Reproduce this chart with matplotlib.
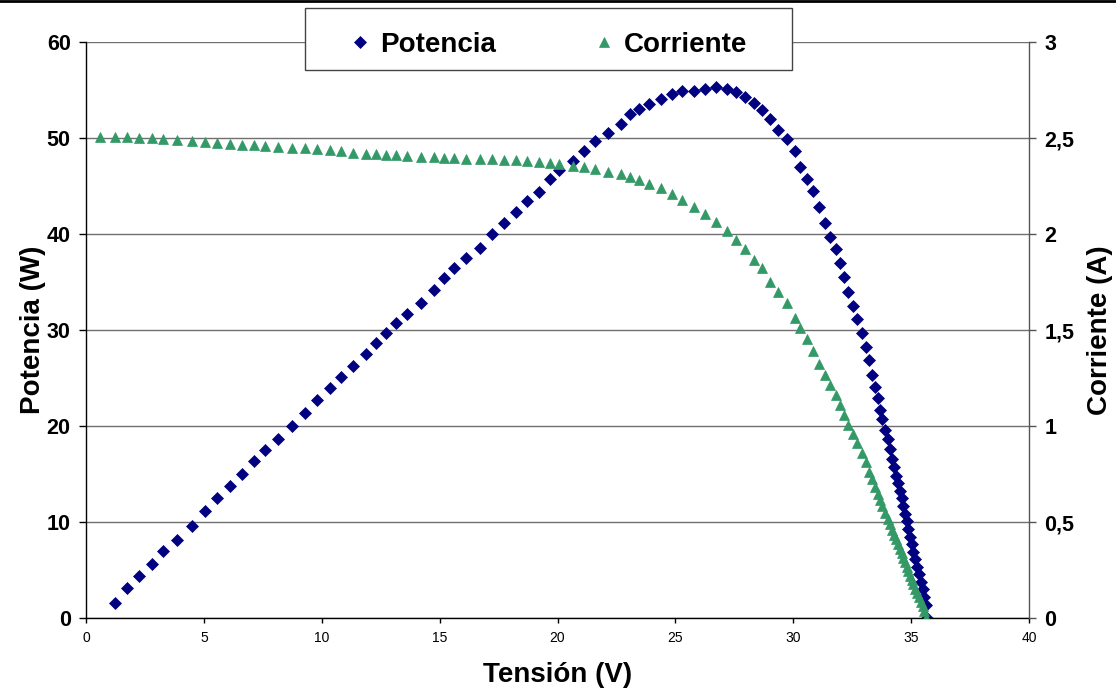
import numpy as np
import matplotlib
matplotlib.use("Agg")
import matplotlib.pyplot as plt
from matplotlib.lines import Line2D
from matplotlib.patches import Rectangle
from matplotlib.ticker import FuncFormatter

plt.rcParams['font.family'] = ['Liberation Sans', 'DejaVu Sans']

nan = np.nan

# Tensión (V) - shared x values
tension = [0.59, 1.24, 1.75, 2.26, 2.80, 3.28, 3.86, 4.48, 5.05, 5.54, 6.09, 6.62, 7.13, 7.59,
           8.16, 8.72, 9.27, 9.79, 10.33,
           10.83, 11.34, 11.86, 12.31, 12.74, 13.16, 13.62, 14.21, 14.75, 15.19, 15.62, 16.13,
           16.72, 17.22, 17.72, 18.25, 18.69, 19.23, 19.70, 20.06,
           20.66, 21.12, 21.60, 22.14, 22.69, 23.09, 23.47, 23.90, 24.39, 24.87, 25.27, 25.77,
           26.27, 26.71, 27.17, 27.58, 27.95, 28.32, 28.66, 29.00, 29.37, 29.73, 30.06, 30.29,
           30.58, 30.82, 31.08, 31.34, 31.57, 31.82, 31.98, 32.17, 32.33, 32.53, 32.71, 32.92,
           33.08, 33.22, 33.36, 33.46, 33.58,
           33.68, 33.78, 33.88, 34.00, 34.10, 34.17, 34.26, 34.34, 34.43, 34.51, 34.60, 34.66,
           34.75, 34.81, 34.88, 34.95, 35.02, 35.09, 35.17, 35.26, 35.33, 35.42, 35.49, 35.56,
           35.63, 35.69]

# Potencia (W)
potencia = [nan,
            1.53, 3.09, 4.38, 5.66, 6.94, 8.13, 9.61, 11.15, 12.53, 13.72, 15.00, 16.35, 17.50,
            18.65, 20.03, 21.38, 22.71, 23.96,
            25.10, 26.28, 27.53, 28.65, 29.72, 30.73, 31.70, 32.78, 34.17, 35.45, 36.43, 37.47,
            38.57, 39.97, 41.15, 42.26, 43.44, 44.41, 45.70, 46.67,
            47.64, 48.68, 49.65, 50.49, 51.46, 52.47, 53.02, 53.54, 54.03, 54.58, 54.86, 54.93,
            55.10, 55.28, 55.10, 54.82, 54.30, 53.65, 52.88, 51.95, 50.83, 49.86, 48.68, 47.01,
            45.76, 44.51, 42.84, 41.18, 39.72, 38.44, 36.95, 35.49, 33.93, 32.53, 31.15, 29.72,
            28.23, 26.88, 25.35, 24.10, 22.89,
            21.70, 20.70, 19.61, 18.61, 17.57, 16.59, 15.70, 14.82, 14.06, 13.23, 12.47, 11.70,
            10.86, 10.07, 9.27, 8.47, 7.71, 6.91, 6.15, 5.35, 4.55, 3.79, 2.99, 2.19, 1.33, 0.00]

# Corriente (A)
corriente = [2.504, 2.507, 2.504, 2.498, 2.498, 2.493, 2.490, 2.484, 2.479, 2.472, 2.469, 2.465,
             2.462, 2.458, 2.455, 2.448, 2.446, 2.441, 2.436, 2.432, 2.423, 2.418, 2.415,
             2.412, 2.409, 2.406, 2.403, 2.400, 2.398, 2.396, 2.393, 2.391, 2.389, 2.388, 2.385,
             2.381, 2.377, 2.371, 2.363,
             2.356, 2.347, 2.337, 2.324, 2.311, 2.298, 2.281, 2.260, 2.238, 2.208, 2.177, 2.142,
             2.104, 2.063, 2.016, 1.969, 1.920, 1.865, 1.821,
             1.752, 1.696, 1.639, 1.564, 1.509, 1.455, 1.391, 1.325, 1.264, 1.214, 1.160,
             1.110, 1.055, 1.006, 0.958, 0.909, 0.858, 0.813, 0.763, 0.722, 0.684, 0.646, 0.615,
             0.581, 0.549, 0.517, 0.487, 0.459, 0.433, 0.409, 0.384, 0.361, 0.338, 0.313, 0.290,
             0.266, 0.243, 0.221, 0.197, 0.175, 0.152, 0.129, 0.107, 0.084, 0.062, 0.037, 0.000,
             nan]

x_ticks = [0, 5, 10, 15, 20, 25, 30, 35, 40]
y_left_ticks = [0, 10, 20, 30, 40, 50, 60]
y_right_ticks = [0, 0.5, 1, 1.5, 2, 2.5, 3]

W, H = 1116, 691
fig = plt.figure(figsize=(W / 100, H / 100), dpi=100)
ax = fig.add_axes([86 / W, 1 - 618 / H, (1029 - 86) / W, (618 - 42) / H])
ax2 = ax.twinx()

navy = '#000080'
green = '#339966'
grid_c = '#707070'

d_style = dict(linestyle='none', marker='D', ms=6.3, color=navy, markeredgewidth=0.5,
               markeredgecolor=navy)
t_style = dict(linestyle='none', marker='^', ms=7.8, color=green, markeredgewidth=0.5,
               markeredgecolor=green)

ax.plot(tension, potencia, label='Potencia', **d_style)
ax2.plot(tension, corriente, label='Corriente', **t_style)

ax.set_xlim(0, 40)
ax.set_ylim(0, 60)
ax2.set_ylim(0, 3)
ax.set_xticks(x_ticks)
ax.set_yticks(y_left_ticks)
ax2.set_yticks(y_right_ticks)
ax2.yaxis.set_major_formatter(FuncFormatter(lambda v, p: ('%g' % v).replace('.', ',')))

ax.yaxis.grid(True, color=grid_c, linewidth=1.0)
ax.set_axisbelow(True)

for s in ['top', 'right']:
    ax.spines[s].set_visible(False)
for s in ['top', 'left', 'bottom']:
    ax2.spines[s].set_visible(False)
ax.spines['left'].set_color('black')
ax.spines['bottom'].set_color('black')
ax.spines['left'].set_linewidth(1.0)
ax.spines['bottom'].set_linewidth(1.0)
ax2.spines['right'].set_color('#555555')
ax2.spines['right'].set_linewidth(1.0)

ax.tick_params(axis='y', direction='out', length=5, width=1, pad=6, labelsize=15.5,
               colors='black')
ax.tick_params(axis='x', direction='out', length=3.5, width=1, pad=6, labelsize=10)
ax2.tick_params(axis='y', direction='out', length=5, width=1, pad=6, labelsize=15.5,
                color='#555555', labelcolor='black')
for lbl in ax.get_yticklabels() + ax2.get_yticklabels():
    lbl.set_fontweight('bold')

ax.set_xlabel('Tensión (V)', fontsize=20, fontweight='bold')
ax.set_ylabel('Potencia (W)', fontsize=20, fontweight='bold')
ax2.set_ylabel('Corriente (A)', fontsize=20, fontweight='bold')
ax.xaxis.set_label_coords(0.5, (618 - 662) / 576)
ax.yaxis.set_label_coords((46 - 86) / 943, 0.5)
ax2.yaxis.set_label_coords((1087 - 86) / 943, 0.5)

# legend frame + legend
frame = Rectangle((305 / W, 1 - 70 / H), (792 - 305) / W, (70 - 8) / H,
                  transform=fig.transFigure, facecolor='white', edgecolor='#444444',
                  linewidth=1.0, zorder=3)
fig.patches.append(frame)
handles = [Line2D([], [], **d_style), Line2D([], [], **t_style)]
leg = fig.legend(handles, ['Potencia', 'Corriente'], loc='center', ncol=2, frameon=False,
                 bbox_to_anchor=(548 / W, 1 - 45 / H), handlelength=0.8, handletextpad=0.3,
                 columnspacing=3.5, prop={'weight': 'bold', 'size': 20})
leg.set_zorder(5)

# top black border line
fig.add_artist(Line2D([0, 1], [1 - 1.3 / H, 1 - 1.3 / H], transform=fig.transFigure,
                      color='black', linewidth=2.0))

fig.savefig('out.png', dpi=100)
